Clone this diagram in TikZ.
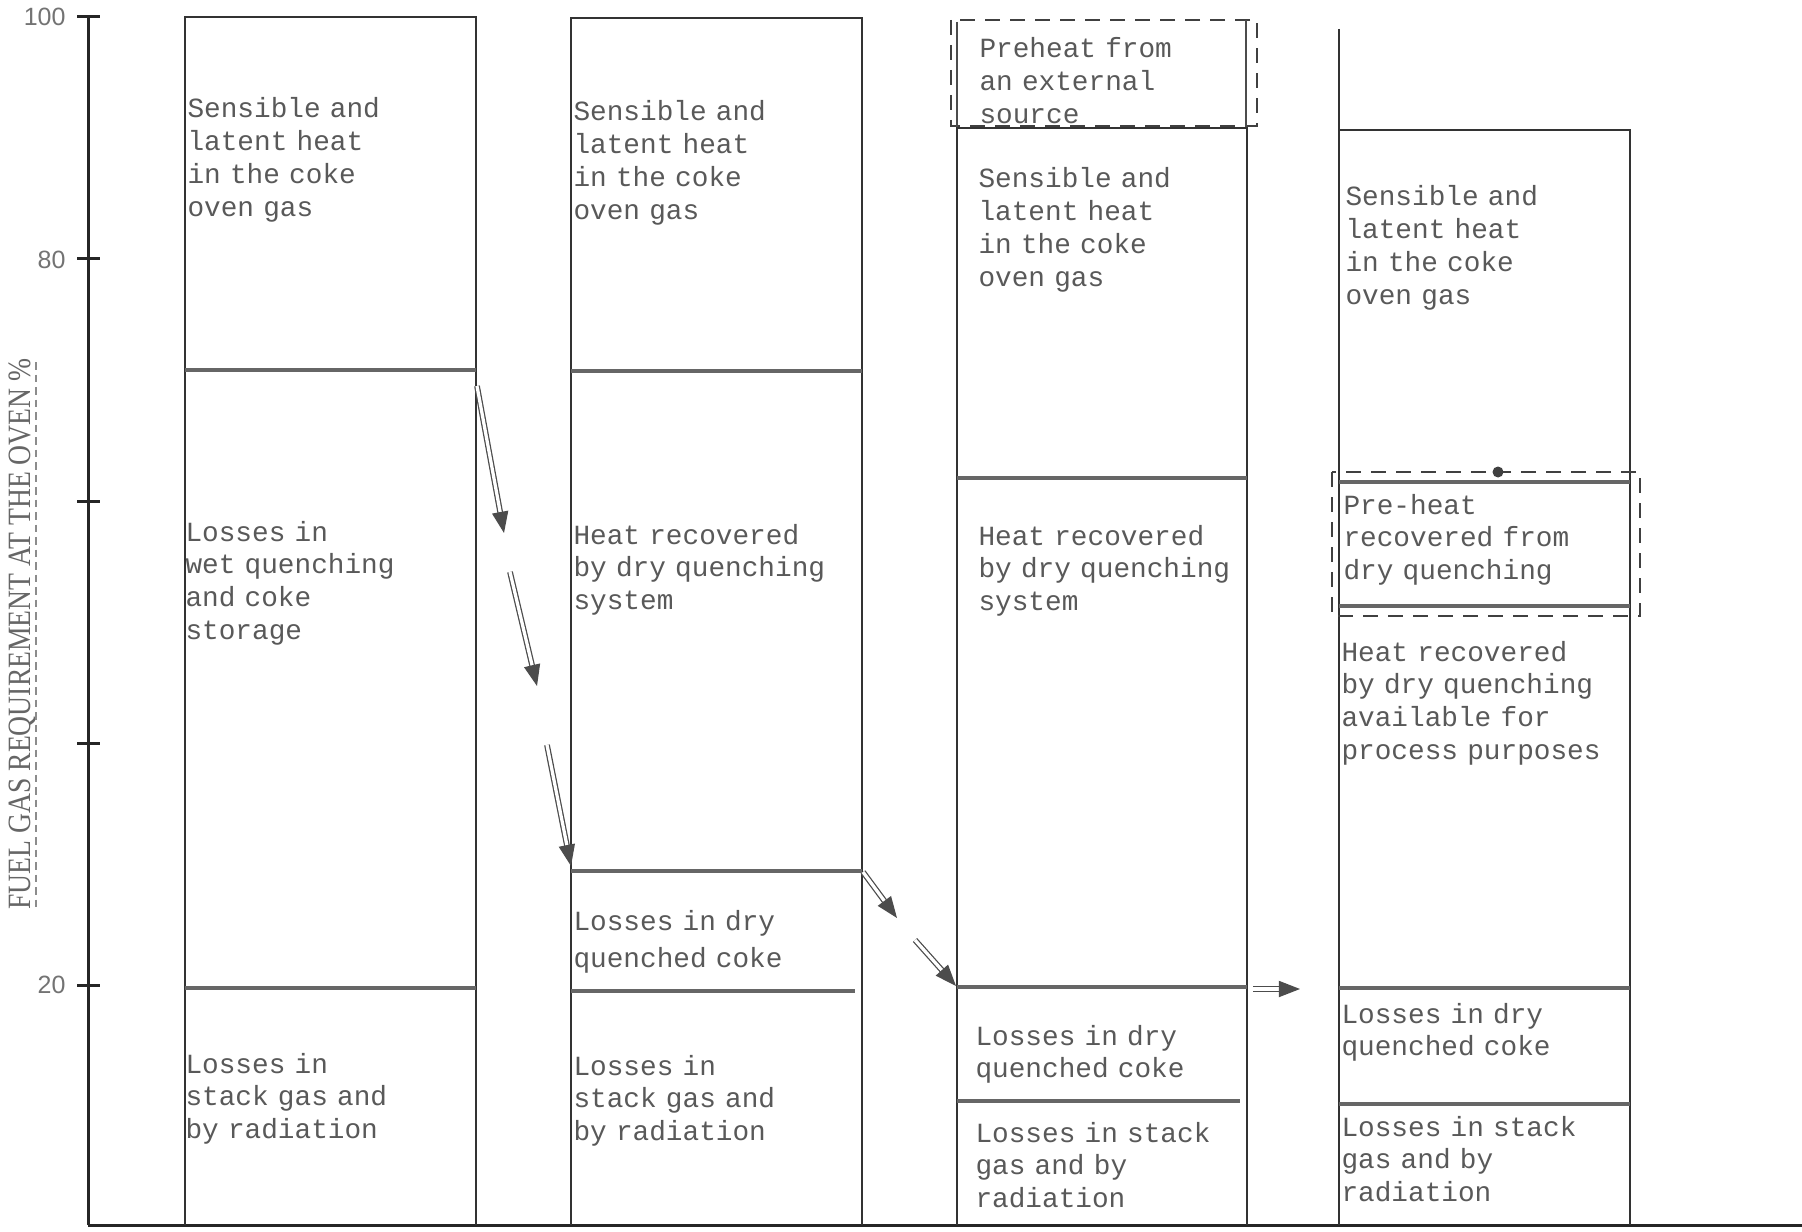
\documentclass[tikz,border=0pt]{standalone}
\usepackage{fontspec}
\usetikzlibrary{arrows.meta}
\newfontfamily\twfont{Liberation Mono}
\newfontfamily\labfont{Liberation Sans}
\newfontfamily\serfont{Liberation Serif}
\tikzset{
  colline/.style={draw=black!80, line width=0.9pt},
  divline/.style={draw=black!60, line width=1.3pt},
  axisline/.style={draw=black!85, line width=1.2pt},
  txt/.style={anchor=base west, inner sep=0pt, text width=130pt, align=left,
              font=\twfont\fontsize{11.1}{13.1}\selectfont, text=black!65},
  dashbox/.style={draw=black!75, line width=0.7pt, dash pattern=on 6pt off 4pt},
  dblarrow/.style={draw=black!70, double=white, double distance=1.3pt, line width=0.5pt,
                   -{Triangle[length=8.5pt,width=6.5pt]}},
  ticklab/.style={anchor=east, inner sep=0pt, font=\labfont\fontsize{10}{12}\selectfont, text=black!55},
}
\begin{document}
\begin{tikzpicture}[x=0.4pt,y=-0.4pt]
\useasboundingbox (0,0) rectangle (1802,1232);
\fill[white] (0,0) rectangle (1802,1232);

% axis
\draw[axisline] (88,17) -- (88,1225);
\draw[axisline] (88,1225) -- (1802,1225);
\foreach \yy in {17,259,501,743,985} \draw[axisline] (77,\yy) -- (100,\yy);
\node[ticklab] (l100) at (66,17) {100};
\node[ticklab] (l80) at (66,260) {80};
\node[ticklab] (l20) at (66,985) {20};
\node[rotate=90, inner sep=0pt, text=black!60, font=\serfont\fontsize{13}{15}\selectfont] (ylab) at (22,634)
  {\scalebox{0.85}[1]{FUEL GAS REQUIREMENT AT THE OVEN \%}};
\draw[black!45, line width=0.5pt, densely dashed] (36,362) -- (36,908);

% column 1
\draw[colline] (185,1225) -- (185,17) -- (476,17) -- (476,1225);
\draw[divline] (185,370) -- (476,370);
\draw[divline] (185,988) -- (476,988);
\node[txt] (c1a) at (187,118) {Sensible and\\latent heat\\in the coke\\oven gas};
\node[txt] (c1b) at (185,541) {Losses in\\wet quenching\\and coke\\storage};
\node[txt] (c1c) at (185,1073) {Losses in\\stack gas and\\by radiation};

% column 2
\draw[colline] (571,1225) -- (571,18) -- (862,18) -- (862,1225);
\draw[divline] (571,371) -- (862,371);
\draw[divline] (571,871) -- (862,871);
\draw[divline] (571,991) -- (855,991);
\node[txt] (c2a) at (573,121) {Sensible and\\latent heat\\in the coke\\oven gas};
\node[txt] (c2b) at (573,544) {Heat recovered\\by dry quenching\\system};
\node[txt, font=\twfont\fontsize{11.1}{14.8}\selectfont] (c2c) at (573,930) {Losses in dry\\quenched coke};
\node[txt] (c2d) at (573,1075) {Losses in\\stack gas and\\by radiation};

% column 3
\draw[dashbox] (951,20) rectangle (1257,126);
\draw[black!70, line width=0.6pt] (957,22) -- (957,128);
\draw[black!70, line width=0.6pt] (1246,20) -- (1246,128);
\draw[colline] (957,1225) -- (957,128) -- (1247,128) -- (1247,1225);
\draw[divline] (957,478) -- (1247,478);
\draw[divline] (957,987) -- (1247,987);
\draw[divline] (957,1101) -- (1240,1101);
\node[txt] (c3p) at (979,58) {Preheat from\\an external\\source};
\node[txt] (c3a) at (978,188) {Sensible and\\latent heat\\in the coke\\oven gas};
\node[txt] (c3b) at (978,545) {Heat recovered\\by dry quenching\\system};
\node[txt] (c3c) at (975,1045) {Losses in dry\\quenched coke};
\node[txt] (c3d) at (975,1142) {Losses in stack\\gas and by\\radiation};

% column 4
\draw[colline] (1339,29) -- (1339,1225);
\draw[colline] (1339,130) -- (1630,130) -- (1630,1225);
\draw[divline] (1339,482) -- (1630,482);
\draw[divline] (1339,606) -- (1630,606);
\draw[divline] (1339,988) -- (1630,988);
\draw[divline] (1339,1104) -- (1630,1104);
\draw[dashbox] (1332,472) rectangle (1640,616);
\fill[black!75] (1498,472) circle (2.2pt);
\node[txt] (c4a) at (1345,206) {Sensible and\\latent heat\\in the coke\\oven gas};
\node[txt] (c4p) at (1343,514) {Pre-heat\\recovered from\\dry quenching};
\node[txt] (c4b) at (1341,661) {Heat recovered\\by dry quenching\\available for\\process purposes};
\node[txt] (c4c) at (1341,1023) {Losses in dry\\quenched coke};
\node[txt] (c4d) at (1341,1136) {Losses in stack\\gas and by\\radiation};

% arrows
\coordinate (a1s) at (477,386); \coordinate (a1e) at (504,533);
\coordinate (a2s) at (510,572); \coordinate (a2e) at (537,686);
\coordinate (a3s) at (547,745); \coordinate (a3e) at (571,866);
\coordinate (a4s) at (863,872); \coordinate (a4e) at (897,918);
\coordinate (a5s) at (915,940); \coordinate (a5e) at (956,986);
\coordinate (a6s) at (1253,989); \coordinate (a6e) at (1300,989);
\foreach \i in {1,...,6} \draw[dblarrow] (a\i s) -- (a\i e);
\end{tikzpicture}
\end{document}
